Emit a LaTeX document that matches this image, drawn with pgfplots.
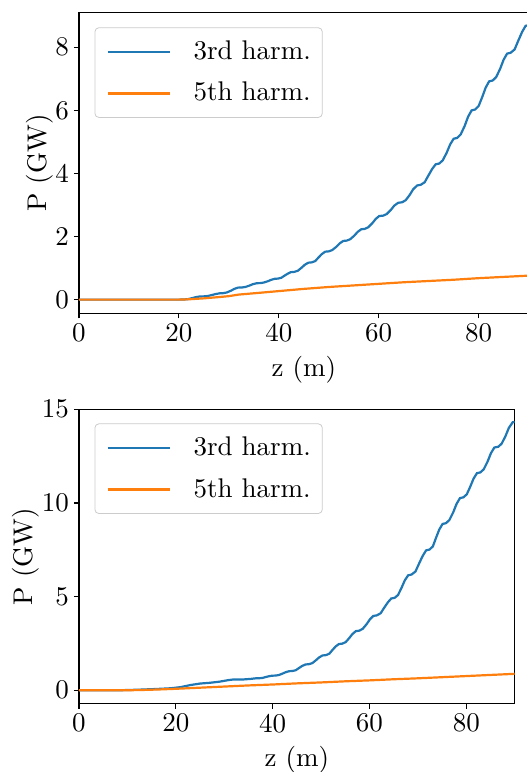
\documentclass[border=0pt]{standalone}
\DeclareFontFamily{TU}{lmrten}{}
\DeclareFontShape{TU}{lmrten}{m}{n}{<-> "[lmroman10-regular]:mapping=tex-text"}{}
\renewcommand\rmdefault{lmrten}
\usepackage{pgfplots}
\pgfplotsset{compat=1.18}
\definecolor{mplblue}{HTML}{1F77B4}
\definecolor{mplorange}{HTML}{FF7F0E}
\pgfplotsset{
  harm/.style={
    scale only axis,
    xmin=0, xmax=90,
    xtick={0,20,40,60,80},
    tick align=outside,
    tick pos=left,
    major tick length=5pt,
    axis line style={line width=1.1pt, black},
    tick style={line width=1.1pt, black},
    /pgf/number format/assume math mode=true,
    tick label style={font=\fontsize{27}{32}\selectfont, inner sep=5pt},
    label style={font=\fontsize{27}{32}\selectfont},
    xlabel={z (m)},
    ylabel={P (GW)},
    xlabel style={at={(axis description cs:0.5,0)}, anchor=base, yshift=-63pt, inner sep=0pt},
    legend cell align=left,
    legend image code/.code={\draw[##1, line width=2.2pt] (0pt,0pt) -- (62pt,0pt);},
    legend style={
      font=\fontsize{27}{32}\selectfont,
      draw=black!20, line width=0.8pt, rounded corners=4pt,
      fill=white, fill opacity=0.8, text opacity=1,
      inner xsep=11.5pt, inner ysep=12.5pt,
      column sep=23pt, row sep=18.7pt,
      nodes={inner sep=0pt, text height=19pt, text depth=4pt},
      anchor=north west,
    },
  }
}
\begin{document}
\begin{tikzpicture}[x=1pt,y=1pt]
% ---------- top panel ----------
\begin{axis}[harm,
  at={(79pt,458.7pt)}, anchor=south west,
  width=449.6pt, height=301pt,
  ymin=-0.434, ymax=9.11,
  ytick={0,2,4,6,8},
  ylabel style={at={(axis description cs:-0.0734,0.5)}, anchor=base, inner sep=0pt},
  legend style={at={(axis description cs:0.0345,0.95)}},
]
\addplot[color=mplblue, line width=2.2pt] coordinates {
(0,0) (10,0) (20.2,0)
(21.0,0.003) (21.8,0.015) (22.6,0.045) (23.4,0.078) (24.2,0.10)
(25.0,0.103) (25.8,0.115) (26.6,0.145) (27.4,0.178) (28.2,0.20)
(28.9,0.205) (29.6,0.227) (30.4,0.281) (31.1,0.340) (31.8,0.38)
(32.6,0.384) (33.3,0.401) (34.1,0.443) (34.8,0.489) (35.6,0.52)
(36.3,0.524) (37.0,0.541) (37.8,0.583) (38.5,0.629) (39.2,0.66)
(39.8,0.666) (40.5,0.692) (41.1,0.755) (41.8,0.824) (42.4,0.87)
(43.1,0.879) (43.8,0.915) (44.5,1.005) (45.2,1.104) (45.9,1.17)
(46.6,1.181) (47.3,1.223) (47.9,1.328) (48.6,1.443) (49.3,1.52)
(50.0,1.530) (50.7,1.571) (51.5,1.673) (52.2,1.785) (52.9,1.86)
(53.6,1.871) (54.3,1.916) (55.1,2.027) (55.8,2.149) (56.5,2.23)
(57.2,2.243) (57.9,2.293) (58.7,2.419) (59.4,2.558) (60.1,2.65)
(60.9,2.663) (61.6,2.713) (62.4,2.839) (63.1,2.978) (63.9,3.07)
(64.7,3.087) (65.4,3.153) (66.2,3.318) (66.9,3.499) (67.7,3.62)
(68.4,3.640) (69.2,3.721) (69.9,3.922) (70.7,4.143) (71.4,4.29)
(72.1,4.314) (72.8,4.412) (73.6,4.655) (74.3,4.922) (75.0,5.10)
(75.7,5.127) (76.4,5.235) (77.2,5.505) (77.9,5.802) (78.6,6.00)
(79.3,6.028) (80.0,6.138) (80.7,6.414) (81.4,6.718) (82.1,6.92)
(82.8,6.946) (83.5,7.052) (84.3,7.316) (85.0,7.606) (85.7,7.80)
(86.4,7.826) (87.2,7.932) (87.9,8.196) (88.7,8.486) (89.4,8.68)
(90.0,8.70)
};
\addlegendentry{3rd harm.}
\addplot[color=mplorange, line width=2.2pt] coordinates {
(0,0) (10,0) (20,0) (22,0.01) (25,0.04) (28,0.08) (30,0.11) (32,0.16)
(35,0.20) (40,0.27) (45,0.34) (50,0.40) (55,0.45) (60,0.50) (65,0.55)
(70,0.59) (75,0.63) (80,0.68) (85,0.72) (90,0.76)
};
\addlegendentry{5th harm.}
\end{axis}
% ---------- bottom panel ----------
\begin{axis}[harm,
  at={(79pt,68.3pt)}, anchor=south west,
  width=435.7pt, height=294.4pt,
  ymin=-0.715, ymax=15.0,
  ytick={0,5,10,15},
  ylabel style={at={(axis description cs:-0.1056,0.5)}, anchor=base, inner sep=0pt},
  legend style={at={(axis description cs:0.0356,0.952)}},
]
\addplot[color=mplblue, line width=2.2pt] coordinates {
(0,0) (8,0) (12,0.03) (16,0.07) (19,0.11) (21,0.17) (23,0.28) (25,0.36)
(27,0.40) (29,0.46) (31,0.55) (32,0.58) (34,0.58) (35.5,0.61) (36.5,0.64)
(37.2,0.644) (37.9,0.661) (38.5,0.703) (39.2,0.749) (39.9,0.78)
(40.6,0.787) (41.3,0.816) (42.0,0.888) (42.7,0.967) (43.4,1.02)
(44.1,1.031) (44.8,1.074) (45.4,1.182) (46.1,1.301) (46.8,1.38)
(47.5,1.394) (48.2,1.452) (48.9,1.596) (49.6,1.754) (50.3,1.86)
(51.0,1.878) (51.7,1.952) (52.3,2.135) (53.0,2.336) (53.7,2.47)
(54.4,2.491) (55.1,2.574) (55.8,2.781) (56.5,3.008) (57.2,3.16)
(57.9,3.184) (58.6,3.282) (59.4,3.525) (60.1,3.792) (60.8,3.97)
(61.5,3.998) (62.3,4.110) (63.0,4.389) (63.8,4.695) (64.5,4.90)
(65.2,4.937) (65.9,5.086) (66.6,5.458) (67.3,5.867) (68.0,6.14)
(68.7,6.180) (69.5,6.340) (70.2,6.739) (71.0,7.177) (71.7,7.47)
(72.4,7.512) (73.1,7.682) (73.7,8.105) (74.4,8.570) (75.1,8.88)
(75.8,8.921) (76.5,9.087) (77.3,9.501) (78.0,9.956) (78.7,10.26)
(79.4,10.300) (80.1,10.460) (80.8,10.859) (81.5,11.297) (82.2,11.59)
(82.9,11.631) (83.6,11.796) (84.4,12.207) (85.1,12.659) (85.8,12.96)
(86.6,13.000) (87.3,13.163) (88.1,13.568) (88.8,14.013) (89.6,14.31)
(90.0,14.33)
};
\addlegendentry{3rd harm.}
\addplot[color=mplorange, line width=2.2pt] coordinates {
(0,0) (8,0) (12,0.01) (16,0.04) (20,0.08) (25,0.14) (30,0.20) (35,0.26)
(40,0.31) (45,0.37) (50,0.42) (55,0.48) (60,0.53) (65,0.59) (70,0.64)
(75,0.70) (80,0.76) (85,0.82) (90,0.88)
};
\addlegendentry{5th harm.}
\end{axis}
\pgfresetboundingbox
\useasboundingbox (0,0) rectangle (527,772);
\end{tikzpicture}
\end{document}
